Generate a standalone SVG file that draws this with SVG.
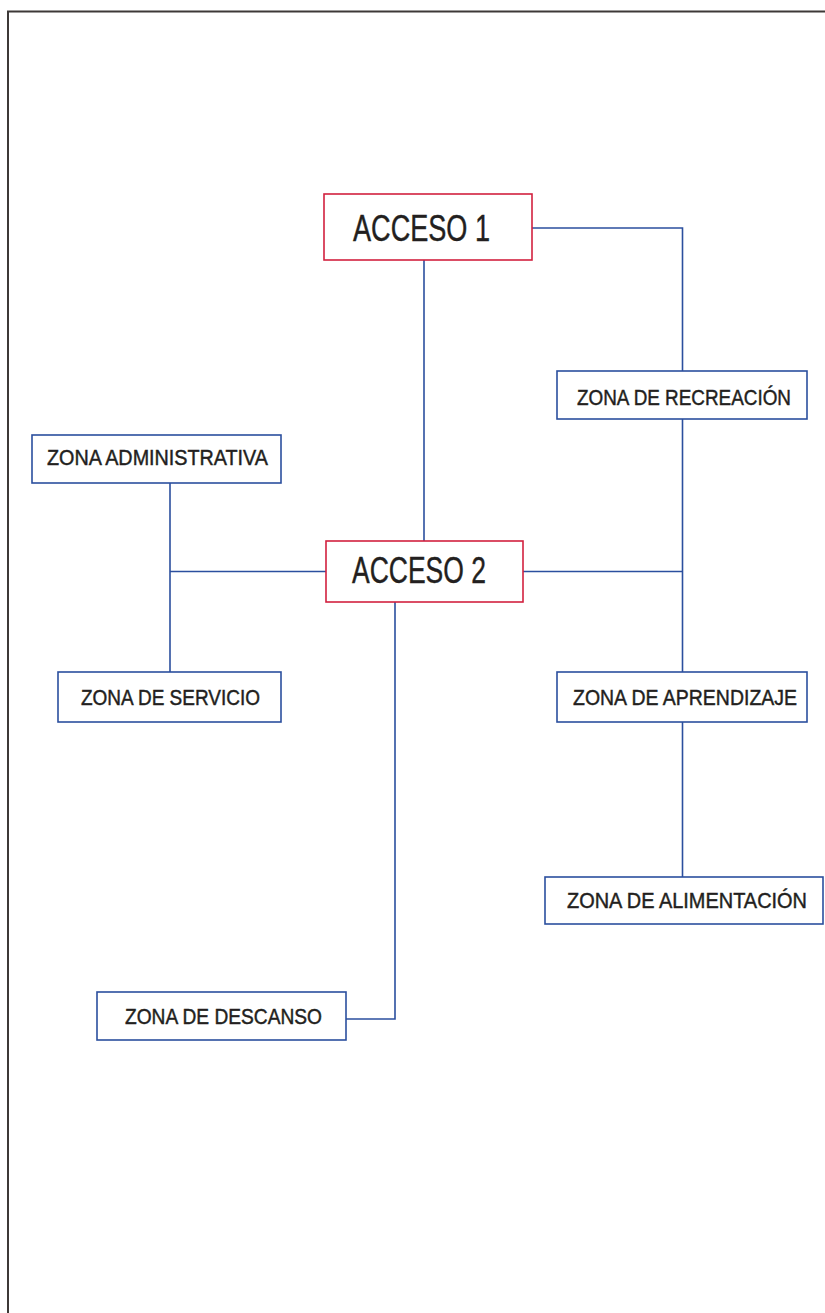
<svg xmlns="http://www.w3.org/2000/svg" width="825" height="1313" viewBox="0 0 825 1313">
<style>
.frame{fill:none;stroke:#3d3937;stroke-width:2}
.acc{fill:#fff;stroke:#d2213f;stroke-width:1.6}
.zone{fill:#fff;stroke:#2b4f9e;stroke-width:1.6}
.conn{fill:none;stroke:#2b4f9e;stroke-width:1.6}
.big{font-family:"Liberation Sans",Arial,sans-serif;font-size:36px;fill:#231f20;stroke:#231f20;stroke-width:0.4}
.lbl{font-family:"Liberation Sans",Arial,sans-serif;font-size:22px;fill:#231f20;stroke:#231f20;stroke-width:0.45}
</style>
<rect width="825" height="1313" fill="#fff"/>
<path class="frame" d="M8,1313 V11.5 H825"/>
<g id="connectors">
<path class="conn" d="M532,228 H682.5 V371"/>
<path class="conn" d="M424,260 V541"/>
<path class="conn" d="M682.5,419 V672"/>
<path class="conn" d="M523,571.5 H682.5"/>
<path class="conn" d="M682.5,722 V877"/>
<path class="conn" d="M326,571.5 H170"/>
<path class="conn" d="M170,483 V672"/>
<path class="conn" d="M395,602 V1019 H343"/>
</g>
<g id="acceso1">
<rect class="acc" x="324" y="194" width="208" height="66"/>
<text class="big" x="353" y="241" textLength="137" lengthAdjust="spacingAndGlyphs">ACCESO 1</text>
</g>
<g id="acceso2">
<rect class="acc" x="326" y="541" width="197" height="61"/>
<text class="big" x="352" y="583" textLength="134" lengthAdjust="spacingAndGlyphs">ACCESO 2</text>
</g>
<g id="zona-recreacion">
<rect class="zone" x="557" y="371" width="250" height="48"/>
<text class="lbl" x="577" y="405" textLength="214" lengthAdjust="spacingAndGlyphs">ZONA DE RECREACIÓN</text>
</g>
<g id="zona-administrativa">
<rect class="zone" x="32" y="435" width="249" height="48"/>
<text class="lbl" x="47" y="465" textLength="221" lengthAdjust="spacingAndGlyphs">ZONA ADMINISTRATIVA</text>
</g>
<g id="zona-servicio">
<rect class="zone" x="58" y="672" width="223" height="50"/>
<text class="lbl" x="81" y="705" textLength="179" lengthAdjust="spacingAndGlyphs">ZONA DE SERVICIO</text>
</g>
<g id="zona-aprendizaje">
<rect class="zone" x="557" y="672" width="250" height="50"/>
<text class="lbl" x="573" y="705" textLength="224" lengthAdjust="spacingAndGlyphs">ZONA DE APRENDIZAJE</text>
</g>
<g id="zona-alimentacion">
<rect class="zone" x="545" y="877" width="278" height="47"/>
<text class="lbl" x="567" y="908" textLength="240" lengthAdjust="spacingAndGlyphs">ZONA DE ALIMENTACIÓN</text>
</g>
<g id="zona-descanso">
<rect class="zone" x="97" y="992" width="249" height="48"/>
<text class="lbl" x="125" y="1024" textLength="197" lengthAdjust="spacingAndGlyphs">ZONA DE DESCANSO</text>
</g>
</svg>
